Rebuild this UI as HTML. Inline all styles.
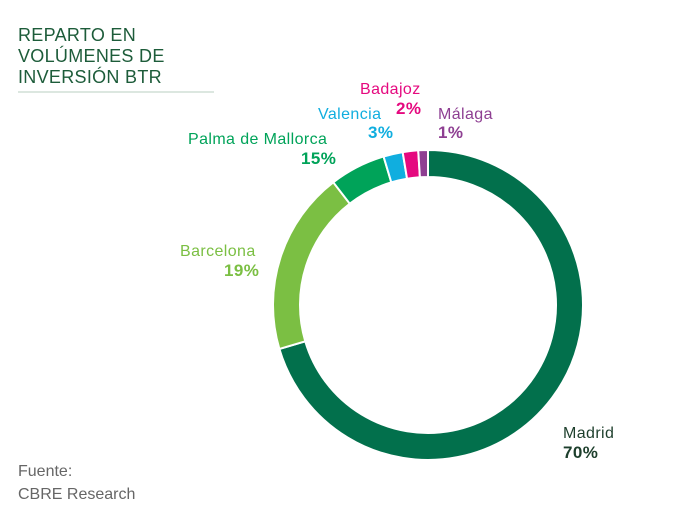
<!DOCTYPE html>
<html><head><meta charset="utf-8"><style>
body{margin:0;background:#fff;width:698px;height:518px;overflow:hidden;font-family:"Liberation Sans",sans-serif}
svg{display:block}
</style></head><body>
<svg width="698" height="518">
<g fill="#1d5c3a" font-size="18" letter-spacing="0.3">
<text x="18" y="41">REPARTO EN</text>
<text x="18" y="62">VOLÚMENES DE</text>
<text x="18" y="83">INVERSIÓN BTR</text>
</g>
<line x1="18" y1="92" x2="214" y2="92" stroke="#b9cfc2" stroke-width="1"/>
<g id="slices"></g>
<g id="labels" font-size="16" letter-spacing="0.4"></g>
<g fill="#666" font-size="16">
<text x="18" y="476">Fuente:</text>
<text x="18" y="499">CBRE Research</text>
</g>
</svg>
<script>
const categories=["Madrid","Barcelona","Palma de Mallorca","Valencia","Badajoz","Málaga"];
const values=[70,19,5.8,2.0,1.6,1.0];
const printedLabels=["70%","19%","15%","3%","2%","1%"];
const colors=["#02704c","#7bbf43","#00a359","#10aedf","#e5097f","#8e3f92"];
const lx=[563,180,188,318,360,438];
const ly=[438,256,144,119,94,119];
const vx=[563,224,301,368,396,438];
const vy=[458,276,164,138,114,138];
const cx=428,cy=305,R=155,r=128;
const ns="http://www.w3.org/2000/svg";
const total=values.reduce((a,b)=>a+b,0);
function pt(a,rad){return [cx+rad*Math.sin(a),cy-rad*Math.cos(a)];}
let acc=0;
const gS=document.getElementById('slices'),gL=document.getElementById('labels');
values.forEach((v,i)=>{
  const a0=acc/total*2*Math.PI;acc+=v;const a1=acc/total*2*Math.PI;
  const large=(a1-a0)>Math.PI?1:0;
  const [x0,y0]=pt(a0,R),[x1,y1]=pt(a1,R),[x2,y2]=pt(a1,r),[x3,y3]=pt(a0,r);
  const p=document.createElementNS(ns,'path');
  p.setAttribute('d',`M${x0},${y0}A${R},${R} 0 ${large} 1 ${x1},${y1}L${x2},${y2}A${r},${r} 0 ${large} 0 ${x3},${y3}Z`);
  p.setAttribute('fill',colors[i]);p.setAttribute('stroke','#fff');p.setAttribute('stroke-width','2');
  
  
  gS.appendChild(p);
  const t=document.createElementNS(ns,'text');
  t.setAttribute('x',lx[i]);t.setAttribute('y',ly[i]);t.setAttribute('fill',i===0?'#1d3f2c':colors[i]);
  t.textContent=categories[i];
  
  
  gL.appendChild(t);
  const t2=document.createElementNS(ns,'text');
  t2.setAttribute('x',vx[i]);t2.setAttribute('y',vy[i]);t2.setAttribute('fill',i===0?'#1d3f2c':colors[i]);
  t2.setAttribute('font-weight','bold');t2.setAttribute('font-size','17');
  t2.textContent=printedLabels[i];
  
  
  gL.appendChild(t2);
});
</script>
</body></html>
